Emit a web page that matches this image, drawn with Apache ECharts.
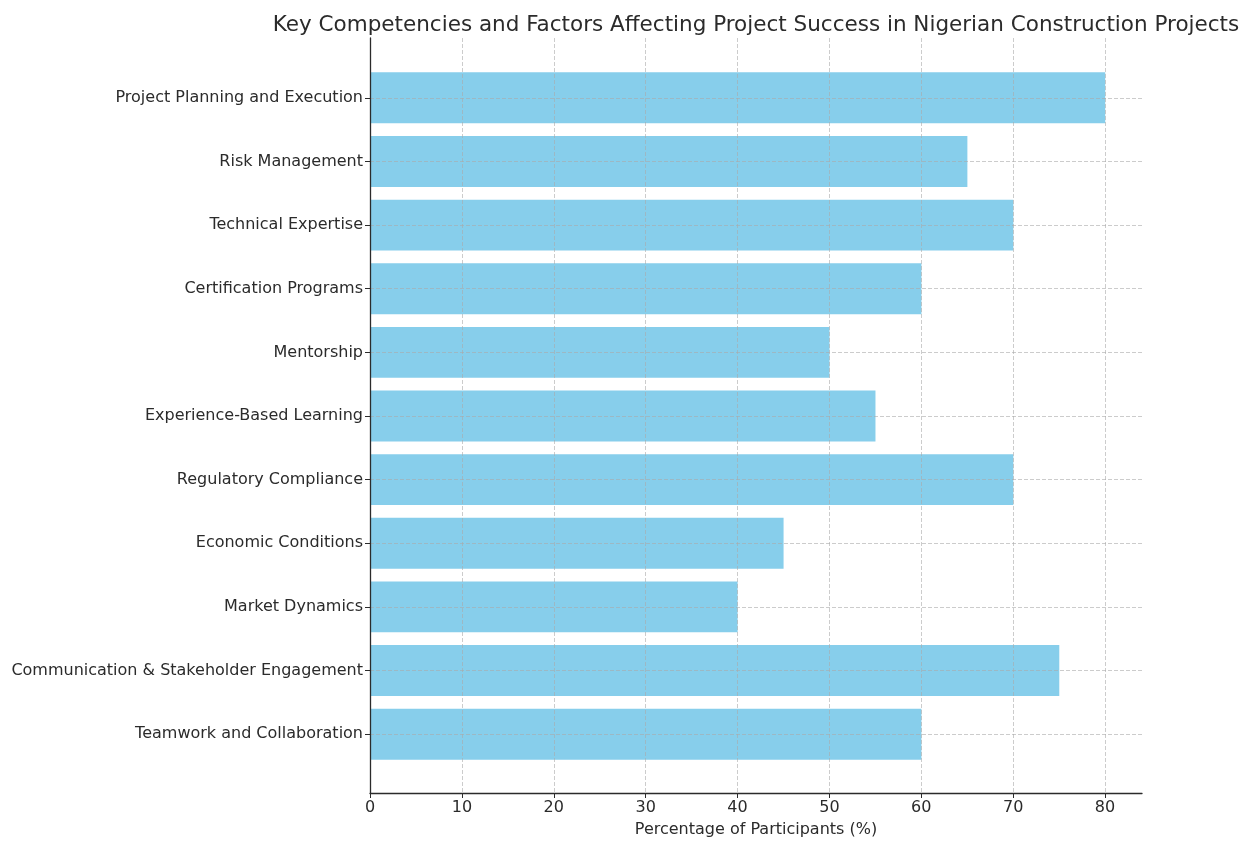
<!DOCTYPE html>
<html>
<head>
<meta charset="utf-8">
<script src="https://cdn.jsdelivr.net/npm/echarts@6/dist/echarts.min.js"></script>
<style>html,body{margin:0;padding:0;background:#fff;}#c{width:1252px;height:842px;}</style>
</head>
<body>
<div id="c"></div>
<script>
const categories = [
  "Project Planning and Execution",
  "Risk Management",
  "Technical Expertise",
  "Certification Programs",
  "Mentorship",
  "Experience-Based Learning",
  "Regulatory Compliance",
  "Economic Conditions",
  "Market Dynamics",
  "Communication & Stakeholder Engagement",
  "Teamwork and Collaboration"
];
const values = [80, 65, 70, 60, 50, 55, 70, 45, 40, 75, 60];
const xTicks = [0, 10, 20, 30, 40, 50, 60, 70, 80];
const titleText = "Key Competencies and Factors Affecting Project Success in Nigerian Construction Projects";
const xName = "Percentage of Participants (%)";

const FONT = "DejaVu Sans";
const TXT = "#2b2b2b";
const GRIDC = "rgba(170,170,170,0.6)";

const chart = echarts.init(document.getElementById('c'), null, {renderer: 'canvas'});
chart.setOption({
  backgroundColor: '#fff',
  animation: false,
  textStyle: {fontFamily: FONT, color: TXT},
  title: {
    text: titleText, left: 751, top: 9, textAlign: 'center',
    textStyle: {fontFamily: FONT, fontSize: 21.5, fontWeight: 'normal', color: TXT}
  },
  grid: [
    {left: 370, right: 147, top: 38, bottom: 49, containLabel: false, outerBoundsMode: 'none'},
    {left: 370, right: 110, top: 66, bottom: 76, containLabel: false, outerBoundsMode: 'none'}
  ],
  xAxis: [
    {
      gridIndex: 0, type: 'value', min: xTicks[0], max: xTicks[xTicks.length - 1], interval: 10, z: 5,
      axisLine: {show: false},
      axisTick: {show: true, length: 5, lineStyle: {color: TXT, width: 1}},
      axisLabel: {fontFamily: FONT, fontSize: 16, color: TXT, margin: 7},
      splitLine: {show: true, lineStyle: {color: GRIDC, type: [4, 2], width: 1}}
    },
    {
      gridIndex: 1, type: 'value', min: 0, max: 84, offset: 27, z: 7,
      axisLine: {show: true, lineStyle: {color: TXT, width: 1.3}},
      axisTick: {show: false}, axisLabel: {show: false}, splitLine: {show: false},
      name: xName, nameLocation: 'middle', nameGap: 29,
      nameTextStyle: {fontFamily: FONT, fontSize: 16, color: TXT}
    }
  ],
  yAxis: [
    {
      gridIndex: 0, type: 'value', min: 0, max: 1, z: 7,
      axisLine: {show: true, lineStyle: {color: TXT, width: 1.3}},
      axisTick: {show: false}, axisLabel: {show: false}, splitLine: {show: false}
    },
    {
      gridIndex: 1, type: 'category', data: categories, inverse: true,
      axisLine: {show: false},
      axisTick: {show: true, alignWithLabel: true, length: 5, lineStyle: {color: TXT, width: 1}},
      axisLabel: {fontFamily: FONT, fontSize: 16, color: TXT, margin: 7, padding: [5, 0, 0, 0]},
      splitLine: {show: false}
    }
  ],
  series: [{
    type: 'bar', xAxisIndex: 1, yAxisIndex: 1, data: values, barWidth: '80%',
    itemStyle: {color: '#87CEEB'},
    markLine: {
      silent: true, symbol: 'none', label: {show: false}, z: 5,
      lineStyle: {color: GRIDC, type: [4, 2], width: 1},
      data: categories.map((c, i) => ({yAxis: i}))
    }
  }]
});
</script>
</body>
</html>
